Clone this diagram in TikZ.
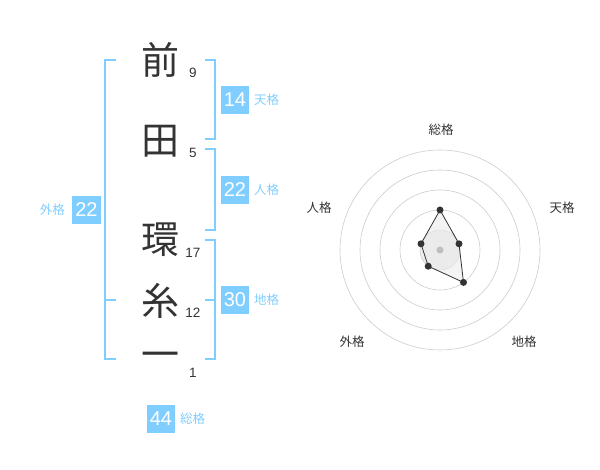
\documentclass[tikz,border=0pt]{standalone}
\usepackage{fontspec}
\setmainfont{Liberation Sans}
\newfontfamily\jpfont{Noto Sans CJK JP}
\usetikzlibrary{positioning}
\definecolor{kakublue}{RGB}{128,206,255}
\definecolor{inkgray}{RGB}{51,51,51}
\tikzset{
  kanji/.style = {inner sep=0pt, text=inkgray,
    font=\jpfont\fontsize{38}{38}\selectfont},% big name character
  strokes/.style = {inner sep=0pt, text=inkgray,
    font=\fontsize{13.5}{13.5}\selectfont},% stroke count
  kakubox/.style = {rectangle, fill=kakublue, text=white, inner sep=0pt,
    minimum size=28.5pt, font=\fontsize{20}{20}\selectfont},% value box
  kakuname/.style = {inner sep=0pt, text=kakublue,
    font=\jpfont\fontsize{12.5}{12.5}\selectfont},% label next to box
  bracket/.style = {draw=kakublue, line width=2pt},
  ring/.style = {draw=black!20, line width=0.6pt},
  axisname/.style = {inner sep=0pt, text=inkgray,
    font=\jpfont\fontsize{12.5}{12.5}\selectfont},
  vertex/.style = {circle, fill=inkgray, inner sep=0pt, minimum size=7pt}
}
\begin{document}
\begin{tikzpicture}[x=1pt,y=-1pt]
\useasboundingbox (0,0) rectangle (600,470);
% name characters and stroke counts
\node [kanji] (c1) at (160,60) {前};
\node [kanji] (c2) at (160,141) {田};
\node [kanji] (c3) at (160,240) {環};
\node [kanji] (c4) at (160,301) {糸};
\node [kanji] (c5) at (160,360) {一};
\node [strokes] (n1) at (193,73) {9};
\node [strokes] (n2) at (193,153) {5};
\node [strokes] (n3) at (193,253) {17};
\node [strokes] (n4) at (193,313) {12};
\node [strokes] (n5) at (193,373) {1};
% brackets
\coordinate (lt) at (116,60);  \coordinate (lb) at (116,359);
\coordinate (lm) at (116,300);
\draw [bracket] (lt) -- ++(-11,0) |- (lb);
\draw [bracket] (lm) -- ++(-11,0);
\coordinate (t1) at (205,60);  \coordinate (t2) at (205,139.5);
\coordinate (j1) at (205,149.5); \coordinate (j2) at (205,230);
\coordinate (d1) at (205,240); \coordinate (d2) at (205,359);
\coordinate (dm) at (205,300);
\draw [bracket] (t1) -- ++(9.5,0) |- (t2);
\draw [bracket] (j1) -- ++(9.5,0) |- (j2);
\draw [bracket] (d1) -- ++(9.5,0) |- (d2);
\draw [bracket] (dm) -- ++(9.5,0);
% values
\node [kakubox] (ten) at (235,100) {14};
\node [kakuname, right=4.5pt of ten] (tenl) {天格};
\node [kakubox] (jin) at (235,190) {22};
\node [kakuname, right=4.5pt of jin] (jinl) {人格};
\node [kakubox] (chi) at (235,300) {30};
\node [kakuname, right=4.5pt of chi] (chil) {地格};
\node [kakubox] (gai) at (86.5,210) {22};
\node [kakuname, left=7pt of gai] (gail) {外格};
\node [kakubox] (sou) at (161,419) {44};
\node [kakuname, right=4.5pt of sou] (soul) {総格};
% radar
\coordinate (ctr) at (440,250);
\fill [black!7] (ctr) circle [radius=20];
\foreach \r in {20,40,...,100}
  \draw [ring] (ctr) circle [radius=\r];
\coordinate (psou) at (440,210);
\coordinate (pten) at (459,243.8);
\coordinate (pchi) at (463.5,282.4);
\coordinate (pgai) at (428.2,266.2);
\coordinate (pjin) at (421,243.8);
\draw [inkgray, line width=0.8pt, fill=black!8, fill opacity=0.6]
  (psou) -- (pten) -- (pchi) -- (pgai) -- (pjin) -- cycle;
\fill [black!25] (ctr) circle [radius=3.5];
\foreach \p in {psou,pten,pchi,pgai,pjin}
  \node [vertex] at (\p) {};
\node [axisname] (asou) at (441,130) {総格};
\node [axisname] (aten) at (562,208) {天格};
\node [axisname] (achi) at (524,342) {地格};
\node [axisname] (agai) at (352,342) {外格};
\node [axisname] (ajin) at (319,208) {人格};
\end{tikzpicture}
\end{document}
